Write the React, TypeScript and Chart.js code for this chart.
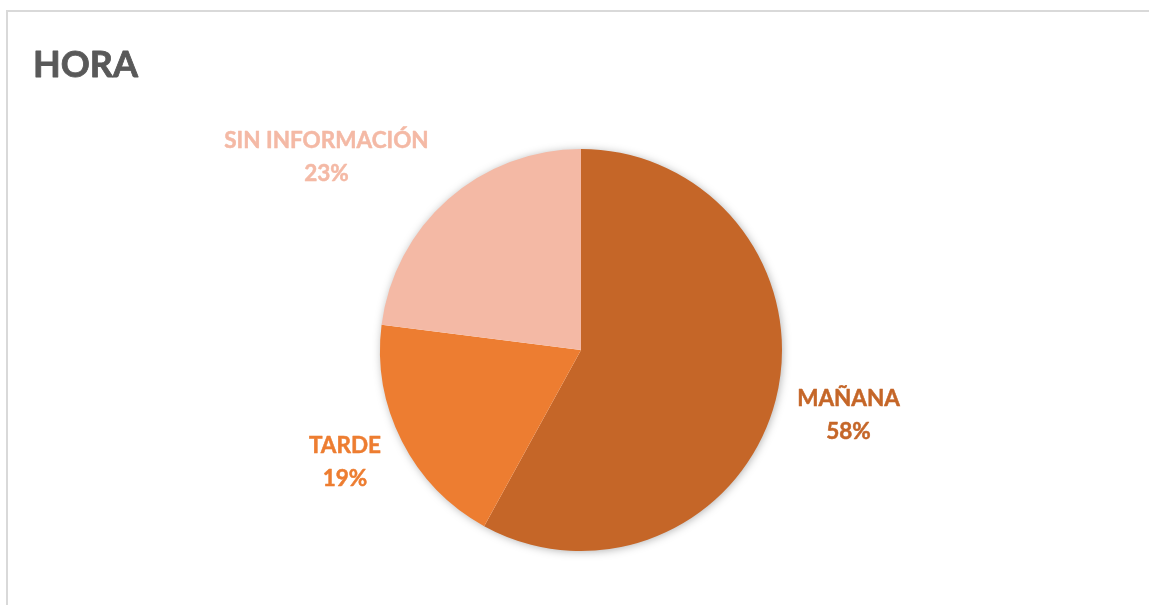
import React, { useEffect, useRef } from "react";
import { Chart, registerables } from "chart.js";

Chart.register(...registerables);

const categories = ["MAÑANA", "TARDE", "SIN INFORMACIÓN"];
const values = [58, 19, 23];
const percentLabels = ["58%", "19%", "23%"];
const colors = ["#C56628", "#ED7D31", "#F4B9A5"];
const titleText = "HORA";

// label placement (polar offset from each slice's mid angle)
const labelAngleTweak = [-0.7, 1.6, -11.4]; // degrees
const labelDistance = [1.37, 1.3, 1.59]; // x radius

const FONT = "Lato, 'Open Sans', sans-serif";

const decorPlugin = {
  id: "decor",
  beforeDatasetsDraw(chart: any) {
    const meta = chart.getDatasetMeta(0);
    const arc = meta.data[0];
    if (!arc) return;
    const { x, y, outerRadius } = arc.getProps(["x", "y", "outerRadius"], true);
    const ctx = chart.ctx;
    ctx.save();
    ctx.shadowColor = "rgba(0,0,0,0.35)";
    ctx.shadowBlur = 10;
    ctx.shadowOffsetX = 1;
    ctx.shadowOffsetY = 1;
    ctx.fillStyle = "#ffffff";
    ctx.beginPath();
    ctx.arc(x, y, outerRadius - 1, 0, Math.PI * 2);
    ctx.fill();
    ctx.restore();
  },
  afterDatasetsDraw(chart: any) {
    const ctx = chart.ctx;
    const meta = chart.getDatasetMeta(0);
    ctx.save();
    ctx.lineJoin = "round";
    // title
    ctx.fillStyle = "#595959";
    ctx.strokeStyle = "#595959";
    ctx.lineWidth = 0.8;
    ctx.font = `bold 36px ${FONT}`;
    ctx.textAlign = "left";
    ctx.textBaseline = "alphabetic";
    ctx.fillText(titleText, 33, 77);
    ctx.strokeText(titleText, 33, 77);
    // slice labels
    ctx.font = `bold 22.5px ${FONT}`;
    ctx.textAlign = "center";
    ctx.textBaseline = "middle";
    ctx.lineWidth = 0.5;
    meta.data.forEach((el: any, i: number) => {
      const p = el.getProps(["x", "y", "startAngle", "endAngle", "outerRadius"], true);
      const mid = (p.startAngle + p.endAngle) / 2 + (labelAngleTweak[i] * Math.PI) / 180;
      const d = p.outerRadius * labelDistance[i];
      const cx = p.x + Math.cos(mid) * d;
      const cy = p.y + Math.sin(mid) * d;
      ctx.fillStyle = colors[i];
      ctx.strokeStyle = colors[i];
      ctx.fillText(categories[i], cx, cy - 16.5);
      ctx.strokeText(categories[i], cx, cy - 16.5);
      ctx.fillText(percentLabels[i], cx, cy + 16.5);
      ctx.strokeText(percentLabels[i], cx, cy + 16.5);
    });
    ctx.restore();
  },
};

export default function App() {
  const ref = useRef<HTMLCanvasElement | null>(null);
  useEffect(() => {
    if (!ref.current) return;
    const chart = new Chart(ref.current, {
      type: "pie",
      data: {
        labels: categories,
        datasets: [
          {
            data: values,
            backgroundColor: colors,
            borderWidth: 0,
          },
        ],
      },
      options: {
        animation: false,
        responsive: false,
        maintainAspectRatio: false,
        layout: { padding: { left: 380, top: 149, right: 367, bottom: 54 } },
        plugins: {
          legend: { display: false },
          tooltip: { enabled: false },
          title: { display: false },
        },
      },
      plugins: [decorPlugin],
    });
    return () => chart.destroy();
  }, []);
  return (
    <div style={{ position: "fixed", left: 0, top: 0, width: 1149, height: 605, background: "#fff", overflow: "hidden" }}>
      <div
        style={{
          position: "absolute",
          left: 6,
          top: 10,
          width: 1170,
          height: 640,
          border: "2px solid #d9d9d9",
          boxSizing: "border-box",
        }}
      />
      <canvas ref={ref} width={1149} height={605} style={{ position: "absolute", left: 0, top: 0, width: 1149, height: 605 }} />
    </div>
  );
}
